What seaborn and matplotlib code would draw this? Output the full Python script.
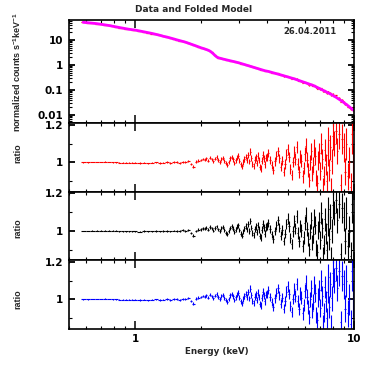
import numpy as np
import matplotlib
matplotlib.use("Agg")
import matplotlib.pyplot as plt
import matplotlib.ticker as mticker
import seaborn as sns

# =========================
# DATA
# =========================

# bin centres in keV
energy = [
    0.58, 0.61, 0.64, 0.67, 0.70, 0.73, 0.76, 0.79, 0.82, 0.85, 0.88, 0.91, 0.94, 0.97,
    1.00, 1.05, 1.10, 1.15, 1.20, 1.25, 1.30, 1.35, 1.40, 1.45,
    1.50, 1.55, 1.60, 1.65, 1.70, 1.75, 1.80, 1.85, 1.90, 1.95,
    2.00, 2.04, 2.08, 2.12, 2.16, 2.20, 2.24, 2.28, 2.32, 2.36,
    2.40, 2.44, 2.48, 2.52, 2.56, 2.60, 2.64, 2.68, 2.72, 2.76,
    2.80, 2.84, 2.88, 2.92, 2.96, 3.00, 3.04, 3.08, 3.12, 3.16,
    3.20, 3.24, 3.28, 3.32, 3.36, 3.40, 3.44, 3.48, 3.52, 3.56,
    3.60, 3.64, 3.68, 3.72, 3.76, 3.80, 3.84, 3.88, 3.92, 3.96,
    4.00, 4.07, 4.14, 4.21, 4.28, 4.35, 4.42, 4.49, 4.56, 4.63,
    4.70, 4.77, 4.84, 4.91, 4.98, 5.05, 5.12, 5.19, 5.26, 5.33,
    5.40, 5.47, 5.54, 5.61, 5.68, 5.75, 5.82, 5.89, 5.96, 6.03,
    6.10, 6.17, 6.24, 6.31, 6.38, 6.45, 6.52, 6.59, 6.66, 6.73,
    6.80, 6.87, 6.94, 7.01, 7.08, 7.15, 7.22, 7.29, 7.36, 7.43,
    7.50, 7.57, 7.64, 7.71, 7.78, 7.85, 7.92, 7.99,
    8.12, 8.26, 8.40, 8.54, 8.68, 8.82, 8.96, 9.10, 9.24, 9.38, 9.52, 9.66, 9.80, 9.94,
]

# folded model, normalized counts s^-1 keV^-1
model_counts = [
    51.0, 49.0, 47.0, 45.0, 42.5, 40.0, 38.0, 35.5, 33.5, 31.5, 29.8, 28.2, 26.8, 25.8,
    25.0, 23.0, 21.2, 19.6, 18.2, 16.8, 15.4, 14.0, 13.1, 12.1,
    11.1, 10.2, 9.5, 8.8, 8.2, 7.5, 6.9, 6.3, 5.8, 5.3,
    4.9, 4.65, 4.4, 4.15, 3.9, 3.6, 3.2, 2.8, 2.4, 2.12,
    1.95, 1.87, 1.80, 1.74, 1.68, 1.63, 1.58, 1.53, 1.48, 1.44,
    1.40, 1.36, 1.32, 1.28, 1.24, 1.20, 1.16, 1.12, 1.08, 1.045,
    1.01, 0.98, 0.95, 0.92, 0.89, 0.865, 0.84, 0.815, 0.79, 0.765,
    0.74, 0.72, 0.70, 0.68, 0.66, 0.64, 0.62, 0.605, 0.59, 0.58,
    0.575, 0.552, 0.530, 0.509, 0.489, 0.470, 0.452, 0.435, 0.418, 0.403,
    0.388, 0.374, 0.360, 0.347, 0.335, 0.323, 0.312, 0.301, 0.291, 0.281,
    0.270, 0.260, 0.250, 0.241, 0.232, 0.223, 0.215, 0.207, 0.200, 0.193,
    0.186, 0.180, 0.174, 0.168, 0.162, 0.157, 0.152, 0.145, 0.139, 0.133,
    0.127, 0.121, 0.116, 0.111, 0.106, 0.102, 0.098, 0.094, 0.090, 0.086,
    0.083, 0.080, 0.077, 0.074, 0.071, 0.068, 0.065, 0.062,
    0.056, 0.052, 0.047, 0.043, 0.039, 0.036, 0.032, 0.029, 0.026, 0.0237, 0.0213, 0.0192, 0.0173, 0.0156,
]

# data / model ratio, first fit (red)
ratio_red = [
    1.000, 1.001, 1.002, 1.003, 1.002, 1.003, 1.002, 1.001, 1.000, 0.999, 0.998, 0.999, 0.998, 0.997,
    0.998, 0.997, 0.999, 0.996, 0.998, 1.000, 0.997, 0.999, 1.002, 0.998,
    1.003, 1.001, 0.999, 1.004, 1.002, 1.006, 0.992, 0.978, 1.004, 1.010,
    1.012, 1.018, 1.015, 1.022, 1.010, 1.025, 1.017, 1.006, 1.020, 1.028,
    1.012, 1.003, 1.019, 1.024, 1.008, 0.995, 0.987, 1.004, 1.021, 1.030,
    1.016, 0.998, 1.011, 1.026, 1.035, 1.009, 0.990, 0.979, 1.002, 1.018,
    1.031, 1.012, 1.040, 1.005, 1.058, 1.022, 0.994, 0.982, 1.015, 1.027,
    0.998, 1.036, 1.012, 0.976, 0.968, 1.010, 1.042, 1.020, 0.990, 1.025,
    1.030, 1.048, 1.012, 0.985, 0.962, 1.005, 1.035, 1.060, 1.022, 0.978,
    1.010, 0.950, 0.990, 1.042, 1.070, 1.028, 0.965, 0.935, 1.002, 1.055,
    1.018, 1.082, 0.992, 0.948, 1.030, 1.008, 0.925, 0.970, 1.045, 1.090,
    1.015, 0.960, 0.905, 1.000, 1.060, 0.940, 0.985, 1.075, 1.035, 0.915,
    0.890, 1.010, 1.050, 0.955, 1.100, 1.020, 0.870, 0.930, 1.065, 0.990,
    0.900, 1.040, 1.120, 0.960, 1.080, 0.865, 1.005, 1.140,
    1.100, 1.170, 1.060, 1.150, 0.880, 1.125, 1.080, 0.950, 1.100, 0.925, 1.000, 0.870, 1.150, 1.000,
]

# second fit (black)
ratio_black = [
    1.000, 1.000, 1.001, 1.002, 1.002, 1.002, 1.001, 1.001, 1.000, 0.999, 0.999, 0.998, 0.998, 0.997,
    0.998, 0.996, 0.999, 0.997, 0.998, 0.999, 0.997, 1.000, 1.001, 0.997,
    1.002, 1.000, 0.998, 1.003, 1.001, 1.004, 0.990, 0.975, 1.000, 1.006,
    1.008, 1.014, 1.011, 1.018, 1.006, 1.021, 1.013, 1.002, 1.016, 1.024,
    1.008, 0.999, 1.015, 1.020, 1.004, 0.991, 0.983, 1.000, 1.017, 1.026,
    1.012, 0.994, 1.007, 1.022, 1.031, 1.005, 0.986, 0.975, 0.998, 1.014,
    1.027, 1.008, 1.036, 1.001, 1.054, 1.018, 0.990, 0.978, 1.011, 1.023,
    0.994, 1.032, 1.008, 0.972, 0.964, 1.006, 1.038, 1.016, 0.986, 1.021,
    1.026, 1.044, 1.008, 0.981, 0.958, 1.001, 1.031, 1.056, 1.018, 0.974,
    1.006, 0.946, 0.986, 1.038, 1.066, 1.024, 0.961, 0.931, 0.998, 1.051,
    1.014, 1.078, 0.988, 0.944, 1.026, 1.004, 0.921, 0.966, 1.041, 1.086,
    1.011, 0.956, 0.901, 0.996, 1.056, 0.936, 0.981, 1.071, 1.031, 0.911,
    0.886, 1.006, 1.046, 0.951, 1.096, 1.016, 0.866, 0.926, 1.061, 0.986,
    0.896, 1.036, 1.116, 0.956, 1.076, 0.861, 1.001, 1.136,
    1.096, 1.166, 1.056, 1.146, 0.876, 1.121, 1.076, 0.946, 1.096, 0.921, 0.996, 0.866, 1.146, 0.996,
]

# third fit (blue) - residuals practically the same as the red one
ratio_blue = list(ratio_red)

# relative 1-sigma errors per bin
rel_err = [
    0.0015, 0.0015, 0.0015, 0.0018, 0.0018, 0.002, 0.002, 0.002, 0.0022, 0.0022, 0.0025, 0.0025, 0.0025, 0.0028,
    0.003, 0.003, 0.0032, 0.0034, 0.0036, 0.0038, 0.004, 0.0042, 0.0045, 0.0048,
    0.005, 0.0052, 0.0055, 0.0058, 0.006, 0.0063, 0.0066, 0.007, 0.0074, 0.0078,
    0.007, 0.007, 0.0075, 0.0075, 0.008, 0.008, 0.0085, 0.0085, 0.009, 0.009,
    0.0095, 0.0095, 0.010, 0.010, 0.0105, 0.0105, 0.011, 0.011, 0.0115, 0.0115,
    0.012, 0.012, 0.0125, 0.0125, 0.013, 0.013, 0.0135, 0.0135, 0.014, 0.014,
    0.0145, 0.0145, 0.015, 0.015, 0.0155, 0.0155, 0.016, 0.016, 0.0165, 0.0165,
    0.017, 0.017, 0.0175, 0.0175, 0.018, 0.018, 0.0185, 0.0185, 0.019, 0.019,
    0.020, 0.020, 0.021, 0.021, 0.022, 0.022, 0.023, 0.023, 0.024, 0.024,
    0.025, 0.025, 0.026, 0.026, 0.027, 0.027, 0.028, 0.028, 0.029, 0.030,
    0.030, 0.031, 0.032, 0.032, 0.033, 0.034, 0.035, 0.035, 0.036, 0.037,
    0.038, 0.039, 0.040, 0.041, 0.042, 0.043, 0.044, 0.045, 0.046, 0.047,
    0.048, 0.049, 0.050, 0.051, 0.052, 0.053, 0.054, 0.055, 0.056, 0.057,
    0.058, 0.059, 0.060, 0.061, 0.062, 0.063, 0.064, 0.065,
    0.060, 0.062, 0.064, 0.066, 0.068, 0.070, 0.072, 0.075, 0.078, 0.080, 0.083, 0.086, 0.090, 0.095,
]

title = "Data and Folded Model"
date_label = "26.04.2011"

# =========================
# STYLE
# =========================

sns.set_style("ticks")
plt.rcParams["font.family"] = ["DejaVu Sans"]
plt.rcParams["font.weight"] = "bold"
plt.rcParams["mathtext.fontset"] = "custom"
plt.rcParams["mathtext.bf"] = "Liberation Sans:bold"
plt.rcParams["mathtext.rm"] = "Liberation Sans:bold"
plt.rcParams["mathtext.default"] = "bf"
LAB_FONT = ["Liberation Sans", "DejaVu Sans"]

e = np.array(energy)
half_w = np.gradient(e) / 2
model = np.array(model_counts)
err = np.array(rel_err)

W = 374
fig = plt.figure(figsize=(3.74, 3.74), dpi=100)

left = 69 / W
width = 285 / W
ax_top = fig.add_axes([left, (W - 123) / W, width, 103 / W])
ratio_axes = []
for top_px in [123, 191.5, 260]:
    ratio_axes.append(fig.add_axes([left, (W - top_px - 68.5) / W, width, 68.5 / W]))


def style_axis(ax):
    ax.set_xscale("log")
    ax.set_xlim(0.5, 10)
    for sp in ax.spines.values():
        sp.set_visible(True)
        sp.set_linewidth(1.2)
        sp.set_color("black")
    ax.tick_params(which="both", direction="in", top=True, right=True,
                   labelsize=7.5, colors="black")
    ax.tick_params(axis="x", which="major", length=5.5, width=1.1, pad=4)
    ax.tick_params(axis="x", which="minor", length=2.5, width=0.8)
    ax.tick_params(axis="y", which="major", length=4, width=1.3, pad=4)
    ax.tick_params(axis="y", which="minor", length=2, width=0.8)
    ax.xaxis.set_major_locator(mticker.FixedLocator([1, 10]))
    ax.xaxis.set_minor_locator(mticker.LogLocator(base=10, subs=np.arange(2, 10)))
    ax.xaxis.set_minor_formatter(mticker.NullFormatter())
    ax.set_xlabel("")
    ax.set_ylabel("")


# =========================
# TOP PANEL: DATA + MODEL
# =========================

style_axis(ax_top)
ax_top.set_yscale("log")
counts = model * np.array(ratio_red)
ax_top.errorbar(e, counts, xerr=half_w, yerr=counts * err, fmt="none",
                ecolor="#ff0000", elinewidth=0.9)
sns.lineplot(x=e, y=model, ax=ax_top, color="#ff00ff", linewidth=2)
ax_top.set_xlim(0.5, 10)
ax_top.set_ylim(0.0048, 63)
ax_top.yaxis.set_major_locator(mticker.FixedLocator([0.01, 0.1, 1, 10]))
ax_top.yaxis.set_major_formatter(mticker.FixedFormatter(["0.01", "0.1", "1", "10"]))
ax_top.yaxis.set_minor_locator(mticker.LogLocator(base=10, subs=np.arange(2, 10), numticks=20))
ax_top.yaxis.set_minor_formatter(mticker.NullFormatter())
ax_top.xaxis.set_major_formatter(mticker.NullFormatter())
ax_top.set_ylabel("")

# =========================
# RATIO PANELS
# =========================

for ax, vals, col in zip(ratio_axes, [ratio_red, ratio_black, ratio_blue],
                         ["#ff0000", "#000000", "#0000ff"]):
    style_axis(ax)
    r = np.array(vals)
    ax.errorbar(e, r, xerr=half_w, yerr=r * err, fmt="none",
                ecolor=col, elinewidth=0.8)
    ax.set_xlim(0.5, 10)
    ax.set_ylim(0.845, 1.21)
    ax.yaxis.set_major_locator(mticker.FixedLocator([1.0, 1.2]))
    ax.yaxis.set_major_formatter(mticker.FixedFormatter(["1", "1.2"]))
    ax.yaxis.set_minor_locator(mticker.FixedLocator([0.9, 1.1]))
    ax.yaxis.set_minor_formatter(mticker.NullFormatter())
    if ax is ratio_axes[-1]:
        ax.xaxis.set_major_formatter(mticker.FixedFormatter(["1", "10"]))
    else:
        ax.xaxis.set_major_formatter(mticker.NullFormatter())

# =========================
# TEXTS
# =========================

fig.text(194 / W, 1 - 9 / W, title, ha="center", va="center", fontsize=6.5, fontweight="bold")
fig.text(337 / W, 1 - 32 / W, date_label, ha="right", va="center", fontsize=6, fontweight="bold")
fig.text(17 / W, 1 - 72 / W, "normalized counts s$^{-1}$keV$^{-1}$", rotation=90,
         ha="center", va="center", fontsize=6.5, fontweight="bold", family=LAB_FONT)
for yc in [153, 228, 299]:
    fig.text(18 / W, 1 - yc / W, "ratio", rotation=90, ha="center", va="center",
             fontsize=6.5, fontweight="bold", family=LAB_FONT)
fig.text(217 / W, 1 - 351 / W, "Energy (keV)", ha="center", va="center",
         fontsize=6.3, fontweight="bold")

plt.savefig("out.png", dpi=100)
